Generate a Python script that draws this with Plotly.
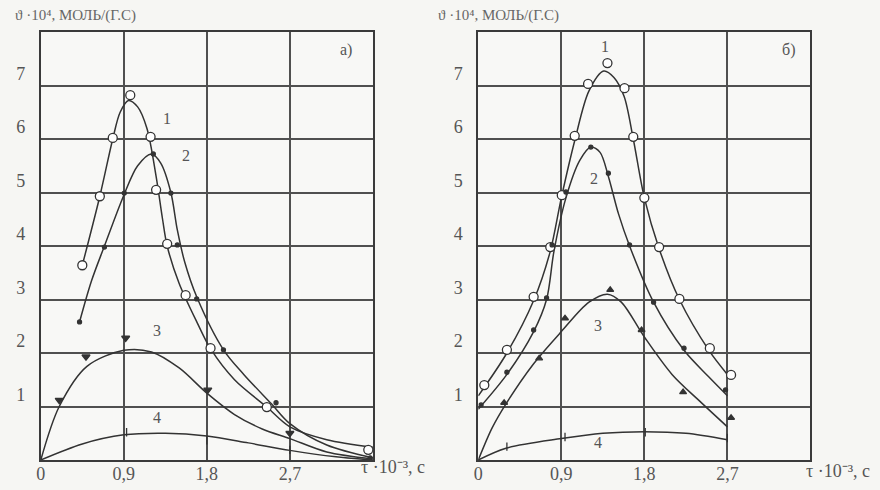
import plotly.graph_objects as go

# ---------------- data ----------------
# tick labels
x_tickvals = [0, 0.9, 1.8, 2.7]
x_ticktext = ["0", "0,9", "1,8", "2,7"]
y_tickvals = [1, 2, 3, 4, 5, 6, 7]
y_ticktext = ["1", "2", "3", "4", "5", "6", "7"]

# panel a) -- measured points
a1_x = [0.45, 0.64, 0.78, 0.97, 1.19, 1.25, 1.37, 1.57, 1.84, 2.45, 3.55]
a1_y = [3.64, 4.93, 6.02, 6.82, 6.04, 5.05, 4.04, 3.08, 2.09, 0.99, 0.19]
a2_x = [0.42, 0.69, 0.905, 1.22, 1.41, 1.48, 1.69, 1.98, 2.55, 3.57]
a2_y = [2.58, 3.98, 4.99, 5.72, 4.99, 4.02, 3.01, 2.06, 1.07, 0.04]
a3_x = [0.2, 0.49, 0.92, 1.81, 2.7]
a3_y = [1.12, 1.93, 2.28, 1.31, 0.5]
a4_x = [0.93, 1.8, 2.7]
a4_y = [0.52, 0.37, 0.19]
# panel a) -- smoothed curves
a1c_x = [0.45, 0.64, 0.78, 0.86, 0.95, 1.05, 1.15, 1.25, 1.32, 1.37, 1.5, 1.7, 1.84, 2.1, 2.45, 2.7, 3.1, 3.6]
a1c_y = [3.64, 4.93, 6.0, 6.5, 6.72, 6.6, 6.2, 5.3, 4.5, 4.0, 3.3, 2.55, 2.08, 1.5, 0.99, 0.62, 0.38, 0.24]
a2c_x = [0.42, 0.55, 0.69, 0.9, 1.05, 1.2, 1.3, 1.41, 1.48, 1.56, 1.69, 1.98, 2.2, 2.5, 2.7, 3.1, 3.6]
a2c_y = [2.58, 3.35, 4.0, 4.95, 5.5, 5.72, 5.55, 5.0, 4.3, 3.7, 3.05, 2.06, 1.6, 1.05, 0.68, 0.28, 0.04]
a3c_x = [0, 0.2, 0.5, 0.9, 1.2, 1.5, 1.8, 2.1, 2.4, 2.7, 3.1, 3.6]
a3c_y = [0, 1.0, 1.75, 2.05, 2.02, 1.72, 1.25, 0.85, 0.58, 0.4, 0.15, 0.02]
a4c_x = [0, 0.45, 0.9, 1.35, 1.8, 2.25, 2.7, 3.2, 3.6]
a4c_y = [0, 0.3, 0.47, 0.5, 0.45, 0.32, 0.18, 0.06, 0]

# panel б) -- measured points
b1_x = [0.065, 0.31, 0.6, 0.78, 0.905, 1.045, 1.19, 1.4, 1.585, 1.68, 1.8, 1.96, 2.18, 2.51, 2.74]
b1_y = [1.4, 2.06, 3.05, 3.98, 4.95, 6.06, 7.03, 7.42, 6.95, 6.04, 4.9, 3.98, 3.01, 2.09, 1.59]
b2_x = [0.03, 0.31, 0.6, 0.74, 0.8, 0.95, 1.22, 1.41, 1.64, 1.9, 2.23, 2.68]
b2_y = [1.03, 1.64, 2.43, 3.03, 4.02, 5.01, 5.85, 5.36, 4.02, 2.95, 2.09, 1.31]
b3_x = [0.28, 0.66, 0.94, 1.43, 1.77, 2.22, 2.74]
b3_y = [1.07, 1.9, 2.65, 3.18, 2.43, 1.27, 0.79]
b4_x = [0.31, 0.94, 1.81, 2.7]
b4_y = [0.25, 0.43, 0.52, 0.41]
# panel б) -- smoothed curves
b1c_x = [0, 0.31, 0.6, 0.78, 0.9, 1.05, 1.2, 1.36, 1.47, 1.58, 1.68, 1.8, 1.96, 2.18, 2.5, 2.7]
b1c_y = [1.2, 2.0, 2.98, 3.9, 4.9, 6.0, 6.9, 7.27, 7.15, 6.8, 6.0, 4.9, 3.95, 3.0, 2.05, 1.6]
b2c_x = [0, 0.31, 0.6, 0.74, 0.82, 0.95, 1.1, 1.22, 1.32, 1.41, 1.52, 1.64, 1.9, 2.23, 2.5, 2.7]
b2c_y = [0.95, 1.6, 2.4, 3.0, 3.9, 4.9, 5.6, 5.85, 5.75, 5.3, 4.6, 4.0, 2.95, 2.05, 1.55, 1.2]
b3c_x = [0, 0.15, 0.3, 0.6, 0.9, 1.2, 1.4, 1.55, 1.8, 2.1, 2.4, 2.7]
b3c_y = [0, 0.6, 1.05, 1.8, 2.4, 2.95, 3.1, 2.95, 2.3, 1.6, 1.1, 0.62]
b4c_x = [0, 0.3, 0.9, 1.35, 1.8, 2.25, 2.7]
b4c_y = [0, 0.22, 0.4, 0.5, 0.53, 0.5, 0.38]

# ---------------- figure ----------------
INK = "#333333"
fig = go.Figure()


def curve(x, y, xa, ya):
    fig.add_trace(go.Scatter(x=x, y=y, mode="lines", xaxis=xa, yaxis=ya,
                             line=dict(color=INK, width=1.5, shape="spline", smoothing=0.9),
                             hoverinfo="skip", showlegend=False))


def pts(x, y, xa, ya, symbol, size, fill):
    fig.add_trace(go.Scatter(x=x, y=y, mode="markers", xaxis=xa, yaxis=ya,
                             marker=dict(symbol=symbol, size=size, color=fill,
                                         line=dict(color=INK, width=1.3)),
                             showlegend=False))


for xa, ya, curves, marks in [
    ("x", "y",
     [(a1c_x, a1c_y), (a2c_x, a2c_y), (a3c_x, a3c_y), (a4c_x, a4c_y)],
     [(a1_x, a1_y, "circle", 9, "white"), (a2_x, a2_y, "circle", 4, INK),
      (a3_x, a3_y, "triangle-down", 7, INK), (a4_x, a4_y, "line-ns-open", 6, INK)]),
    ("x2", "y2",
     [(b1c_x, b1c_y), (b2c_x, b2c_y), (b3c_x, b3c_y), (b4c_x, b4c_y)],
     [(b1_x, b1_y, "circle", 9, "white"), (b2_x, b2_y, "circle", 4, INK),
      (b3_x, b3_y, "triangle-up", 6, INK), (b4_x, b4_y, "line-ns-open", 6, INK)]),
]:
    for cx, cy in curves:
        curve(cx, cy, xa, ya)
    for mx, my, sym, sz, fc in marks:
        pts(mx, my, xa, ya, sym, sz, fc)

FONT = "Liberation Serif"
xcommon = dict(range=[0, 3.6], tickvals=x_tickvals, ticktext=x_ticktext,
               showgrid=True, gridcolor="#505050", gridwidth=1.7,
               showline=True, linecolor="#3a3a3a", linewidth=1.8, mirror=True,
               zeroline=False, ticks="", ticklabelstandoff=-4,
               tickfont=dict(family=FONT, size=18, color="#555"))
ycommon = dict(range=[0, 8], tickvals=y_tickvals, ticktext=y_ticktext,
               showgrid=True, gridcolor="#505050", gridwidth=1.7,
               showline=True, linecolor="#3a3a3a", linewidth=1.8, mirror=True,
               zeroline=False, ticks="", ticklabelshift=-12, ticklabelstandoff=10,
               tickfont=dict(family=FONT, size=18, color="#555"))

ytop = 1 - 32 / 490
ybot = 1 - 460 / 490
fig.update_layout(
    width=880, height=490,
    margin=dict(l=0, r=0, t=0, b=0),
    paper_bgcolor="#f6f6f3", plot_bgcolor="#f8f8f6",
    xaxis=dict(domain=[36 / 880, 370 / 880], anchor="y", **xcommon),
    yaxis=dict(domain=[ybot, ytop], anchor="x", **ycommon),
    xaxis2=dict(domain=[476 / 880, 810 / 880], anchor="y2", **xcommon),
    yaxis2=dict(domain=[ybot, ytop], anchor="x2", **ycommon),
    font=dict(family=FONT, color="#555"),
)

ann = []
lab_font = dict(family=FONT, size=16, color="#555")
for xr, yr, items in [
    ("x", "y", [("1", 1.37, 6.39), ("2", 1.57, 5.7), ("3", 1.26, 2.43), ("4", 1.26, 0.8), ("а)", 3.31, 7.66)]),
    ("x2", "y2", [("1", 1.37, 7.72), ("2", 1.25, 5.27), ("3", 1.3, 2.52), ("4", 1.3, 0.32), ("б)", 3.36, 7.66)]),
]:
    for t, ax_, ay_ in items:
        ann.append(dict(text=t, x=ax_, y=ay_, xref=xr, yref=yr, showarrow=False, font=lab_font))

ytitle = "ϑ ·10⁴, МОЛЬ/(Г.С)"
xtitle = "τ ·10⁻³, с"
ann += [
    dict(text=ytitle, x=8 / 880, y=1 - 15 / 490, xref="paper", yref="paper",
         xanchor="left", yanchor="middle", showarrow=False,
         font=dict(family=FONT, size=15, color="#666")),
    dict(text=ytitle, x=433 / 880, y=1 - 15 / 490, xref="paper", yref="paper",
         xanchor="left", yanchor="middle", showarrow=False,
         font=dict(family=FONT, size=15, color="#666")),
    dict(text=xtitle, x=390 / 880, y=1 - 467 / 490, xref="paper", yref="paper",
         xanchor="center", yanchor="middle", showarrow=False,
         font=dict(family=FONT, size=18, color="#555")),
    dict(text=xtitle, x=838 / 880, y=1 - 471 / 490, xref="paper", yref="paper",
         xanchor="center", yanchor="middle", showarrow=False,
         font=dict(family=FONT, size=18, color="#555")),
]
fig.update_layout(annotations=ann)

fig.write_html("out.html")
